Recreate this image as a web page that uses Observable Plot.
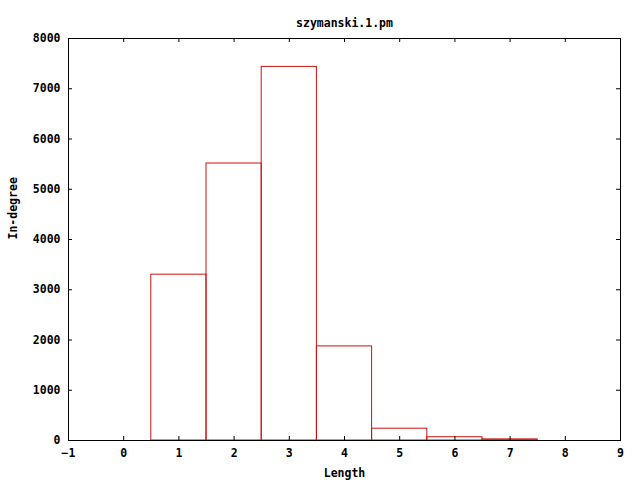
<!DOCTYPE html>
<html>
<head>
<meta charset="utf-8">
<script src="https://cdn.jsdelivr.net/npm/d3@7"></script>
<script src="https://cdn.jsdelivr.net/npm/@observablehq/plot@0.6"></script>
<style>
  html, body { margin: 0; padding: 0; background: #fff; }
  #chart svg { display: block; }
</style>
</head>
<body>
<div id="chart"></div>
<script>
const lengths = [1, 2, 3, 4, 5, 6, 7];
const inDegree = [3300, 5512, 7435, 1872, 235, 65, 22];
const xTicks = [-1, 0, 1, 2, 3, 4, 5, 6, 7, 8, 9];
const yTicks = [0, 1000, 2000, 3000, 4000, 5000, 6000, 7000, 8000];
const titleText = "szymanski.1.pm";
const xLabel = "Length";
const yLabel = "In-degree";

const bars = lengths.map((l, i) => ({length: l, value: inDegree[i]}));

const W = 640, H = 480;
const mL = 68, mR = 20, mT = 38, mB = 40;
const plotW = W - mL - mR, plotH = H - mT - mB;
const tk = 4;
const font = "DejaVu Sans Mono";
const fs = 11.5;

const chart = Plot.plot({
  width: W,
  height: H,
  marginLeft: mL,
  marginRight: mR,
  marginTop: mT,
  marginBottom: mB,
  style: {fontFamily: font, fontSize: fs + "px", fontWeight: "bold", background: "#fff", color: "#000"},
  x: {domain: [-1, 9], ticks: xTicks},
  y: {domain: [0, 8000], ticks: yTicks},
  marks: [
    Plot.rect(bars, {x1: d => d.length - 0.5, x2: d => d.length + 0.5, y1: 0, y2: "value", fill: "none", stroke: "#cc1111", strokeWidth: 1}),
    Plot.tickX(xTicks, {x: d => d, insetTop: plotH - tk, stroke: "#000"}),
    Plot.tickX(xTicks, {x: d => d, insetBottom: plotH - tk, stroke: "#000"}),
    Plot.tickY(yTicks, {y: d => d, insetRight: plotW - tk, stroke: "#000"}),
    Plot.tickY(yTicks, {y: d => d, insetLeft: plotW - tk, stroke: "#000"}),
    Plot.axisX(xTicks, {tickSize: 0, tickPadding: 8, label: null, tickFormat: d3.format("d"), fontSize: fs, fontWeight: "bold"}),
    Plot.axisY(yTicks, {tickSize: 0, tickPadding: 8, label: null, tickFormat: d3.format("d"), fontSize: fs, fontWeight: "bold"}),
    Plot.frame({stroke: "#000", strokeWidth: 1}),
    Plot.text([titleText], {frameAnchor: "top", dy: -20, fontSize: fs, fontWeight: "bold"}),
    Plot.text([xLabel], {frameAnchor: "bottom", dy: 36, fontSize: fs, fontWeight: "bold"}),
    Plot.text([yLabel], {frameAnchor: "left", dx: -55, rotate: -90, fontSize: fs, fontWeight: "bold"})
  ]
});
document.getElementById("chart").appendChild(chart);
</script>
</body>
</html>
